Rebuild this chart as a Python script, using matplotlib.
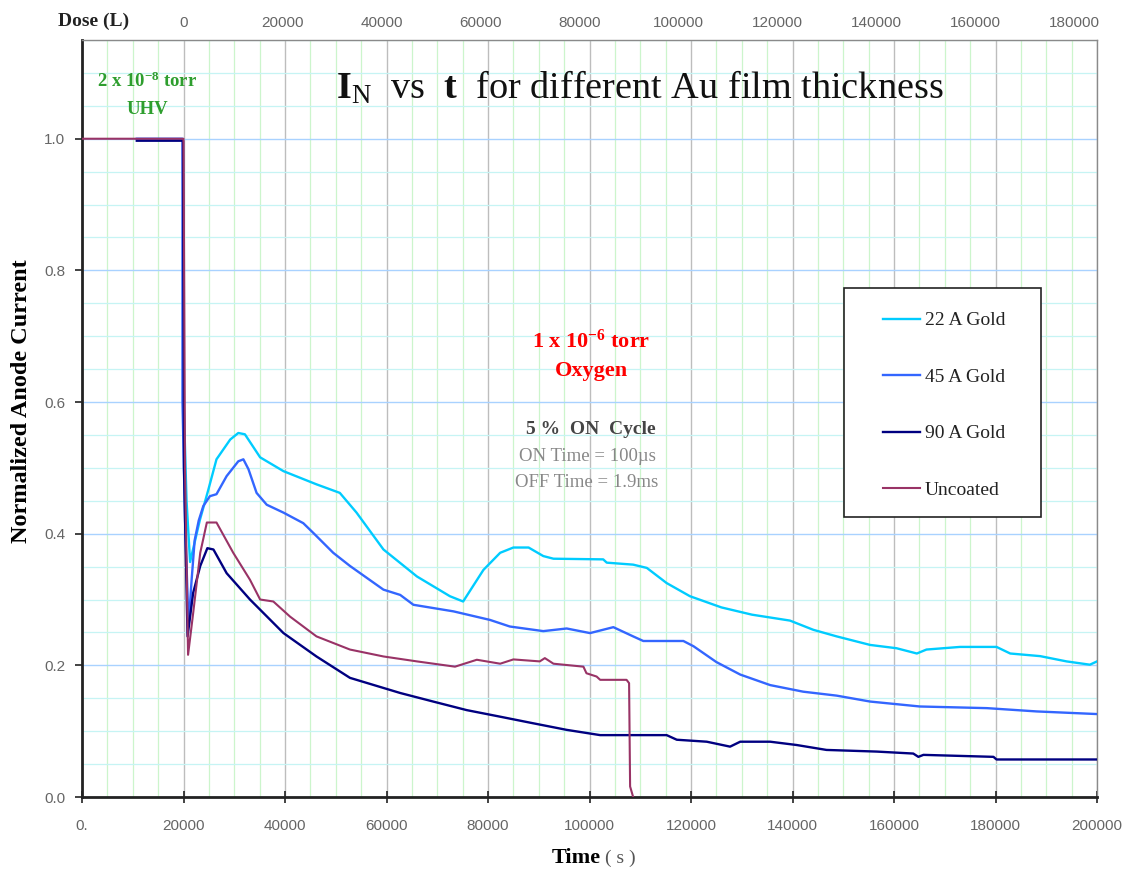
import matplotlib
matplotlib.use('Agg')
import matplotlib.pyplot as plt
from matplotlib.ticker import MultipleLocator, FixedLocator, NullLocator
from matplotlib.patches import Rectangle

plt.rcParams['font.family'] = ['Liberation Serif', 'DejaVu Serif']
plt.rcParams['mathtext.fontset'] = 'custom'
plt.rcParams['mathtext.rm'] = 'Liberation Serif'
plt.rcParams['mathtext.bf'] = 'Liberation Serif:bold'
plt.rcParams['mathtext.it'] = 'Liberation Serif:italic'

# anode current, normalized, vs time (s)
t_22 = [20000, 20600, 21300, 23200, 24900, 26500, 29200, 30800, 32100, 35100, 39700, 46200,
        50800, 54100, 59400, 66000, 72500, 75100, 79100, 82400, 85000, 88000, 90900, 92900,
        102700, 103400, 108600, 111300, 115200, 119800, 126000, 132000, 139500, 144100,
        148700, 155300, 160500, 164500, 166400, 173000, 180200, 182900, 188800, 194000,
        198600, 200000]
v_22 = [0.61, 0.45, 0.357, 0.42, 0.467, 0.513, 0.543, 0.553, 0.551, 0.516, 0.495, 0.475,
        0.462, 0.432, 0.376, 0.335, 0.305, 0.297, 0.345, 0.371, 0.379, 0.379, 0.366, 0.362,
        0.361, 0.356, 0.353, 0.348, 0.325, 0.305, 0.288, 0.277, 0.268, 0.254,
        0.244, 0.231, 0.226, 0.218, 0.224, 0.228, 0.228, 0.218, 0.214, 0.206,
        0.201, 0.206]

t_45 = [10800, 19800, 19800, 20300, 21000, 21600, 22200, 23000, 23900, 25200, 26500, 28500,
        30800, 31800, 32800, 34400, 36400, 39700, 43600, 45600, 49500, 52800, 59400, 62700,
        65300, 73200, 80400, 84300, 90900, 95500, 100100, 104700, 108600, 110600, 118500,
        120500, 125000, 129700, 135600, 142100, 148700, 155300, 165100, 178300, 188100, 200000]
v_45 = [1.0, 1.0, 0.6, 0.42, 0.26, 0.33, 0.39, 0.42, 0.442, 0.457, 0.46, 0.4875,
        0.51, 0.513, 0.498, 0.462, 0.444, 0.432, 0.416, 0.401, 0.371, 0.351, 0.315, 0.307,
        0.292, 0.282, 0.269, 0.259, 0.252, 0.256, 0.249, 0.258, 0.244, 0.237, 0.237,
        0.229, 0.205, 0.186, 0.170, 0.160, 0.154, 0.145, 0.1375, 0.135, 0.130, 0.126]

t_90 = [10800, 19900, 20100, 20800, 21900, 23300, 24700, 25900, 28500, 33100, 39700, 46200,
        52800, 62700, 69200, 75800, 82400, 88900, 95500, 102100, 115200, 117200, 123100,
        127700, 129700, 135600, 140800, 146700, 156600, 163800, 164800, 165800, 179600,
        180200, 200000]
v_90 = [0.997, 0.997, 0.5, 0.244, 0.31, 0.351, 0.378, 0.376, 0.340, 0.300, 0.249, 0.2135,
        0.181, 0.158, 0.145, 0.132, 0.122, 0.112, 0.102, 0.094, 0.094, 0.087, 0.084,
        0.0765, 0.084, 0.084, 0.079, 0.0715, 0.069, 0.066, 0.061, 0.064, 0.061,
        0.057, 0.057]

t_unc = [0, 20000, 20300, 20900, 21900, 23300, 24600, 26500, 29800, 33100, 35100, 37700,
         41000, 46200, 52800, 59400, 66000, 73500, 77800, 82400, 85000, 90200, 91200, 92900,
         98800, 99400, 101400, 102100, 107300, 107800, 108000, 108600]
v_unc = [1.0, 1.0, 0.5, 0.216, 0.279, 0.371, 0.417, 0.417, 0.371, 0.330, 0.300, 0.297,
         0.274, 0.244, 0.224, 0.2135, 0.206, 0.198, 0.2085, 0.2025, 0.209, 0.206, 0.211, 0.2025,
         0.198, 0.188, 0.183, 0.178, 0.178, 0.173, 0.016, 0.0]

labels = ['22 A Gold', '45 A Gold', '90 A Gold', 'Uncoated']
colors = ['#00CCFF', '#3366FF', '#000080', '#993366']

time_ticks = list(range(0, 200001, 20000))
time_labels = ['0.'] + [str(t) for t in time_ticks[1:]]
dose_ticks = list(range(0, 180001, 20000))

def to_dose(t):
    return (t - 20000) * 1.025

def to_time(d):
    return d / 1.025 + 20000

W, H = 1131, 871
fig = plt.figure(figsize=(W / 100, H / 100), dpi=100)
ax = fig.add_axes([82 / W, 74 / H, 1015 / W, 757 / H])

ax.plot(t_22, v_22, color=colors[0], lw=1.7, label=labels[0], zorder=3)
ax.plot(t_45, v_45, color=colors[1], lw=1.7, label=labels[1], zorder=3)
ax.plot(t_90, v_90, color=colors[2], lw=1.7, label=labels[2], zorder=3)
ax.plot(t_unc, v_unc, color=colors[3], lw=1.5, label=labels[3], zorder=3)

ax.set_xlim(0, 200000)
ax.set_ylim(0, 1.15)

# grid: green/gray verticals, cyan/blue horizontals
ax.xaxis.set_major_locator(FixedLocator(time_ticks))
ax.xaxis.set_minor_locator(MultipleLocator(5000))
ax.yaxis.set_major_locator(MultipleLocator(0.2))
ax.yaxis.set_minor_locator(MultipleLocator(0.05))
ax.grid(which='minor', axis='x', color='#ccf5cc', lw=0.9, zorder=0)
ax.grid(which='major', axis='x', color='#bdbdbd', lw=1.0, zorder=0)
ax.grid(which='minor', axis='y', color='#c6f4f4', lw=0.9, zorder=0)
ax.grid(which='major', axis='y', color='#a9d2ff', lw=1.0, zorder=0)
ax.set_axisbelow(True)

tick_font = dict(family=['Liberation Sans', 'DejaVu Sans'], size=11, color='#666666')
ax.set_xticklabels(time_labels, **tick_font)
ax.set_yticklabels(['%.1f' % v for v in ax.get_yticks()], **tick_font)
ax.tick_params(axis='x', which='major', direction='inout', length=8, width=1.2, pad=12,
               color='#222222')
ax.tick_params(axis='y', which='major', direction='out', length=5, width=1.2, pad=7,
               color='#222222')
ax.tick_params(which='minor', length=0)

for side in ['left', 'bottom']:
    ax.spines[side].set_linewidth(2.0)
    ax.spines[side].set_color('#222222')
for side in ['top', 'right']:
    ax.spines[side].set_linewidth(1.0)
    ax.spines[side].set_color('#8a8a8a')

# dose scale along the top
top = ax.secondary_xaxis('top', functions=(to_dose, to_time))
top.set_xticks(dose_ticks)
top.xaxis.set_minor_locator(NullLocator())
top.set_xticklabels([str(d) for d in dose_ticks], **tick_font)
top.tick_params(length=0, pad=7)
top.spines['top'].set_visible(False)
fig.text(58 / W, 1 - 21 / H, 'Dose (L)', fontsize=14, fontweight='bold', color='#222222',
         ha='left', va='center')

# axis labels
fig.text(22 / W, 1 - 401 / H, 'Normalized Anode Current', rotation=90, fontsize=17.5,
         fontweight='bold', ha='center', va='center')
fig.text(601 / W, 1 - 858 / H, 'Time', fontsize=16, fontweight='bold', ha='right', va='center')
fig.text(605 / W, 1 - 858 / H, '( s )', fontsize=14, color='#555555', ha='left', va='center')

# title
ax.text(109950, 1.061,
        r'$\mathbf{I}_{\mathrm{N}}$  vs  $\mathbf{t}$  for different Au film thickness',
        fontsize=27.5, ha='center', va='baseline', color='#111111')

# annotations
ax.text(12800, 1.088, r'2 x 10$^{\mathbf{-8}}$ torr', fontsize=13.5, fontweight='bold',
        color='#2e9e2e', ha='center', va='center')
ax.text(12800, 1.044, 'UHV', fontsize=13.5, fontweight='bold', color='#2e9e2e',
        ha='center', va='center')
ax.text(100300, 0.6925, r'1 x 10$^{\mathbf{-6}}$ torr', fontsize=16, fontweight='bold',
        color='#ff0000', ha='center', va='center')
ax.text(100300, 0.647, 'Oxygen', fontsize=16, fontweight='bold', color='#ff0000',
        ha='center', va='center')
ax.text(100300, 0.5586, '5 %  ON  Cycle', fontsize=14, fontweight='bold', color='#444444',
        ha='center', va='center')
ax.text(99500, 0.5175, 'ON Time = 100\u00b5s', fontsize=13.5, color='#888888',
        ha='center', va='center')
ax.text(99500, 0.478, 'OFF Time = 1.9ms', fontsize=13.5, color='#888888',
        ha='center', va='center')

# legend inside a plain box
ax.add_patch(Rectangle((0.751, 0.370), 0.194, 0.3024, transform=ax.transAxes,
                       facecolor='white', edgecolor='#222222', lw=1.2, zorder=4))
leg = ax.legend(loc='upper left', bbox_to_anchor=(0.789, 0.641), frameon=False,
                fontsize=14, handlelength=1.9, handletextpad=0.26, labelspacing=2.0,
                borderpad=0, borderaxespad=0)
leg.set_zorder(5)
for txt in leg.get_texts():
    txt.set_color('#222222')

fig.savefig('out.png', dpi=100, facecolor='white')
